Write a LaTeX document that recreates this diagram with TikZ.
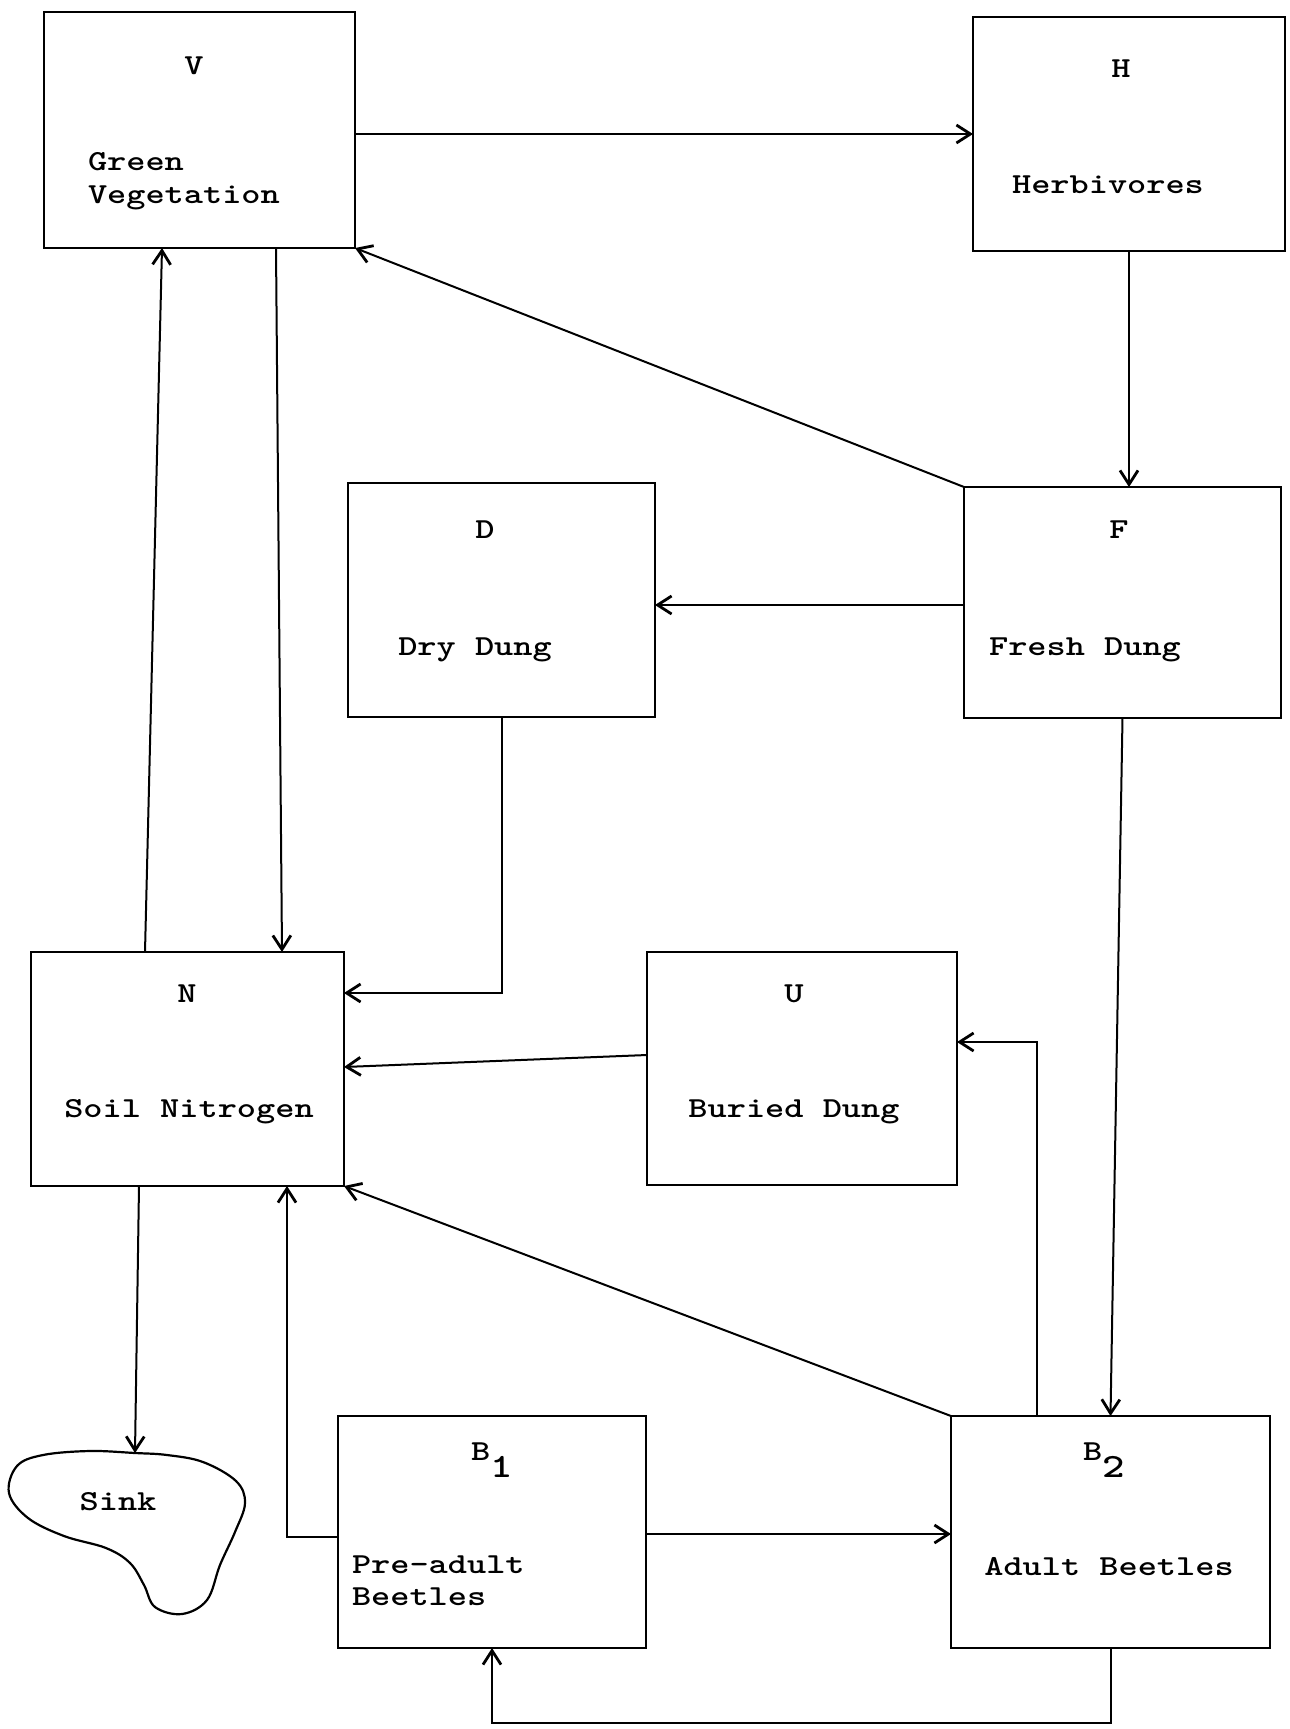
\documentclass[tikz,border=0pt]{standalone}
\usepackage{fontspec}
\newfontfamily\tw{lmmonolt10-bold.otf}[FakeStretch=1.26]
\usetikzlibrary{arrows.meta}
\begin{document}
\begin{tikzpicture}[x=1pt,y=-1pt,
  box/.style={draw,line width=2.6pt,inner sep=0pt,outer sep=0pt},
  lbl/.style={font=\tw\fontsize{29}{33}\selectfont,inner sep=0pt,outer sep=0pt},
  conn/.style={line width=2pt,-{Straight Barb[length=14pt,width=18pt,line width=2.8pt]}},
  blob/.style={line width=2.2pt}
]
\fill[white] (0,0) rectangle (1290,1729);
\useasboundingbox (0,0) rectangle (1290,1729);

% boxes
\node[box,minimum width=311pt,minimum height=236pt] (V)  at (199.5,130) {};
\node[box,minimum width=312pt,minimum height=234pt] (H)  at (1129,134) {};
\node[box,minimum width=307pt,minimum height=234pt] (D)  at (501.5,600) {};
\node[box,minimum width=317pt,minimum height=231pt] (F)  at (1122.5,602.5) {};
\node[box,minimum width=313pt,minimum height=234pt] (N)  at (187.5,1069) {};
\node[box,minimum width=310pt,minimum height=233pt] (U)  at (802,1068.5) {};
\node[box,minimum width=308pt,minimum height=232pt] (B1) at (492,1532) {};
\node[box,minimum width=319pt,minimum height=232pt] (B2) at (1110.5,1532) {};

% labels
\node[lbl,anchor=base] (Vl) at (194,74) {V};
\node[lbl,anchor=base west,align=left] (Vt) at (88,203) {Green\\Vegetation};
\node[lbl,anchor=base] (Hl) at (1121,77) {H};
\node[lbl,anchor=base] (Ht) at (1108,193) {Herbivores};
\node[lbl,anchor=base] (Dl) at (485,538) {D};
\node[lbl,anchor=base] (Dt) at (475,655) {Dry Dung};
\node[lbl,anchor=base] (Fl) at (1119,538) {F};
\node[lbl,anchor=base] (Ft) at (1085,655) {Fresh Dung};
\node[lbl,anchor=base] (Nl) at (187,1002) {N};
\node[lbl,anchor=base] (Nt) at (189,1117) {Soil Nitrogen};
\node[lbl,anchor=base] (Ul) at (794,1002) {U};
\node[lbl,anchor=base] (Ut) at (794,1117) {Buried Dung};
\node[lbl,anchor=base west] (B1l) at (471,1460) {B\raisebox{-17pt}{\fontsize{34}{34}\selectfont 1}};
\node[lbl,anchor=base west,align=left] (B1t) at (352,1605) {Pre-adult\\[-1pt]Beetles};
\node[lbl,anchor=base west] (B2l) at (1083,1460) {B\raisebox{-17pt}{\fontsize{34}{34}\selectfont 2}};
\node[lbl,anchor=base] (B2t) at (1109,1575) {Adult Beetles};

% sink
\draw[blob] plot[smooth cycle, tension=0.6] coordinates {(135,1453) (167,1455) (203,1462) (236,1481) (245,1503) (235,1532) (220,1565) (207,1600) (182,1614) (155,1607) (144,1585) (130,1563) (106,1548) (64,1536) (28,1518) (9,1493) (17,1466) (43,1455) (90,1451)};
\coordinate (sinktop) at (135,1453);
\node[lbl,anchor=base] (Sl) at (118,1510) {Sink};

% connectors
\draw[conn] (V.east |- H.west) -- (H.west);
\draw[conn] (H.south) -- (H.south |- F.north);
\draw[conn] (F.north west) -- (V.south east);
\draw[conn] (F.west |- 0,605) -- (D.east |- 0,605);
\draw[conn] (D.south) |- (N.east |- 0,993);
\draw[conn] (F.south) -- (B2.north);
\draw[conn] (N.north -| 145,0) -- (V.south -| 162,0);
\draw[conn] (V.south -| 276,0) -- (N.north -| 282,0);
\draw[conn] (U.west |- 0,1055) -- (N.east |- 0,1067);
\draw[conn] (B2.north -| 1037,0) |- (U.east |- 0,1042);
\draw[conn] (B2.north west) -- (N.south east);
\draw[conn] (N.south -| 139,0) -- (sinktop);
\draw[conn] (B1.west |- 0,1537) -| (N.south -| 287,0);
\draw[conn] (B1.east |- 0,1534) -- (B2.west |- 0,1534);
\draw[conn] (B2.south) -- (B2.south |- 0,1723) -| (B1.south);
\end{tikzpicture}
\end{document}
